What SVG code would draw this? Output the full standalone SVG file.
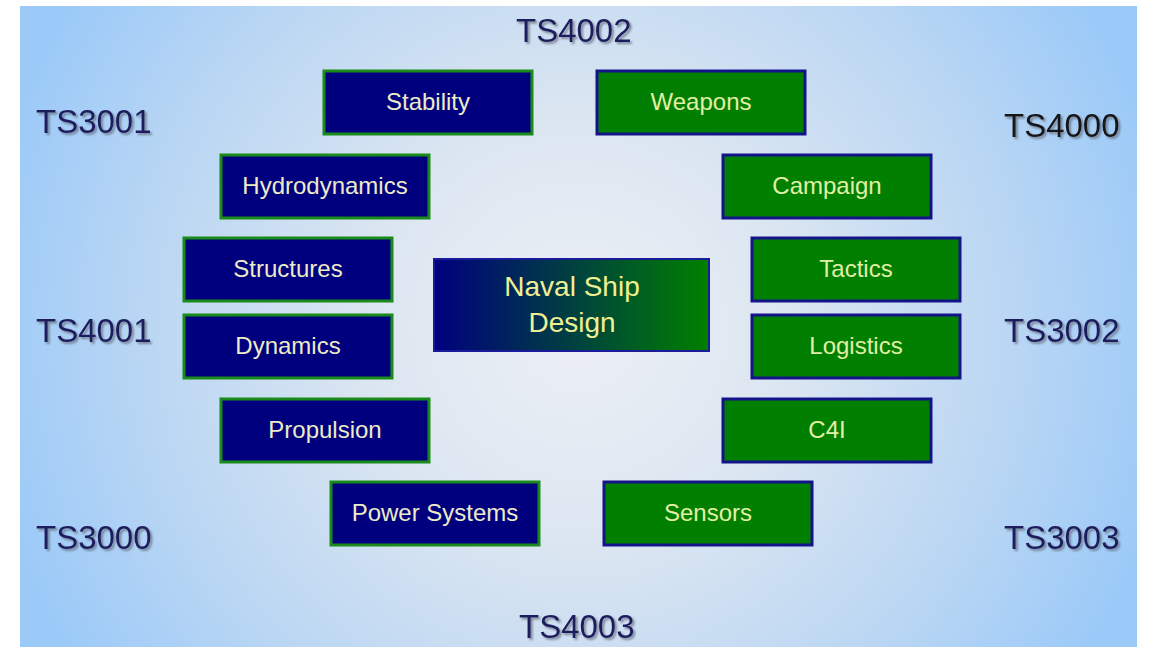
<svg xmlns="http://www.w3.org/2000/svg" width="1151" height="647" viewBox="0 0 1151 647">
  <defs>
    <radialGradient id="bg" gradientUnits="userSpaceOnUse" cx="578" cy="330" r="600">
      <stop offset="0" stop-color="#edf0f5"/>
      <stop offset="0.35" stop-color="#dce6f1"/>
      <stop offset="0.7" stop-color="#bcd7f3"/>
      <stop offset="1" stop-color="#9ccaf8"/>
    </radialGradient>
    <linearGradient id="hub" x1="0" y1="0" x2="1" y2="0">
      <stop offset="0" stop-color="#000080"/>
      <stop offset="1" stop-color="#008000"/>
    </linearGradient>
    <filter id="shadow" x="-10%" y="-20%" width="130%" height="150%">
      <feDropShadow dx="2" dy="2" stdDeviation="1.2" flood-color="#5a6070" flood-opacity="0.7"/>
    </filter>
  </defs>
  <style>
    .code { font-family: "Liberation Sans", Arial, sans-serif; font-size: 33px; fill: #1c1c5e; }
    .blue rect { fill: #00007f; stroke: #1a8a1a; stroke-width: 3; }
    .green rect { fill: #007f00; stroke: #14148a; stroke-width: 3; }
    .lbl { font-family: "Liberation Sans", Arial, sans-serif; font-size: 24px; text-anchor: middle; }
    .blue text { fill: #ecebc6; }
    .green text { fill: #e2f0a6; }
    .hubtxt { font-family: "Liberation Sans", Arial, sans-serif; font-size: 28px; fill: #f0f092; text-anchor: middle; }
  </style>

  <!-- page and backdrop -->
  <rect x="0" y="0" width="1151" height="647" fill="#ffffff"/>
  <rect x="20" y="6" width="1117" height="641" fill="url(#bg)"/>

  <!-- course codes -->
  <g id="codes" filter="url(#shadow)">
    <text class="code" x="516" y="42">TS4002</text>
    <text class="code" x="36" y="133">TS3001</text>
    <text class="code" x="1004" y="137" style="fill:#121218">TS4000</text>
    <text class="code" x="36" y="342">TS4001</text>
    <text class="code" x="1004" y="342">TS3002</text>
    <text class="code" x="36" y="549">TS3000</text>
    <text class="code" x="1004" y="549">TS3003</text>
    <text class="code" x="519" y="638">TS4003</text>
  </g>

  <!-- no connectors in this chart -->
  <g id="connectors"/>

  <!-- centre node -->
  <g id="naval-ship-design">
    <rect x="434" y="259" width="275" height="92" fill="url(#hub)" stroke="#1a1a9a" stroke-width="2"/>
    <text class="hubtxt" x="572" y="296">Naval Ship</text>
    <text class="hubtxt" x="572" y="332">Design</text>
  </g>

  <!-- engineering topics -->
  <g id="stability" class="blue">
    <rect x="324" y="71" width="208" height="63"/>
    <text class="lbl" x="428" y="110">Stability</text>
  </g>
  <g id="hydrodynamics" class="blue">
    <rect x="221" y="155" width="208" height="63"/>
    <text class="lbl" x="325" y="194">Hydrodynamics</text>
  </g>
  <g id="structures" class="blue">
    <rect x="184" y="238" width="208" height="63"/>
    <text class="lbl" x="288" y="277">Structures</text>
  </g>
  <g id="dynamics" class="blue">
    <rect x="184" y="315" width="208" height="63"/>
    <text class="lbl" x="288" y="354">Dynamics</text>
  </g>
  <g id="propulsion" class="blue">
    <rect x="221" y="399" width="208" height="63"/>
    <text class="lbl" x="325" y="438">Propulsion</text>
  </g>
  <g id="power-systems" class="blue">
    <rect x="331" y="482" width="208" height="63"/>
    <text class="lbl" x="435" y="521">Power Systems</text>
  </g>

  <!-- operational topics -->
  <g id="weapons" class="green">
    <rect x="597" y="71" width="208" height="63"/>
    <text class="lbl" x="701" y="110">Weapons</text>
  </g>
  <g id="campaign" class="green">
    <rect x="723" y="155" width="208" height="63"/>
    <text class="lbl" x="827" y="194">Campaign</text>
  </g>
  <g id="tactics" class="green">
    <rect x="752" y="238" width="208" height="63"/>
    <text class="lbl" x="856" y="277">Tactics</text>
  </g>
  <g id="logistics" class="green">
    <rect x="752" y="315" width="208" height="63"/>
    <text class="lbl" x="856" y="354">Logistics</text>
  </g>
  <g id="c4i" class="green">
    <rect x="723" y="399" width="208" height="63"/>
    <text class="lbl" x="827" y="438">C4I</text>
  </g>
  <g id="sensors" class="green">
    <rect x="604" y="482" width="208" height="63"/>
    <text class="lbl" x="708" y="521">Sensors</text>
  </g>
</svg>
